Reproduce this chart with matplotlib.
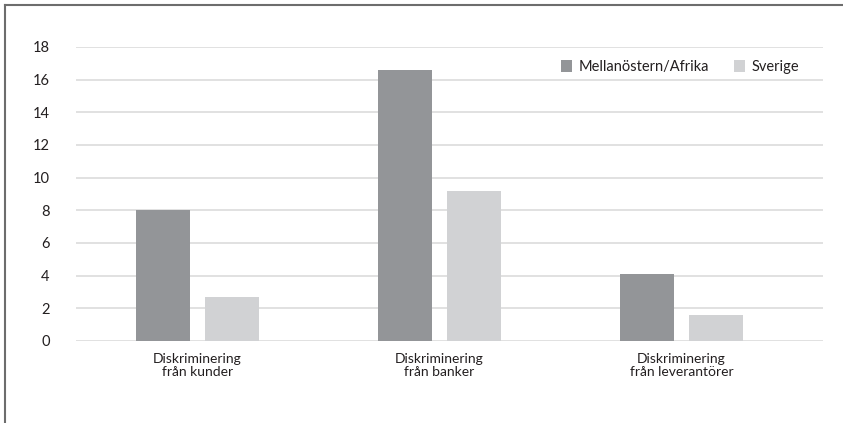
import numpy as np
import matplotlib.pyplot as plt
from matplotlib.lines import Line2D

plt.rcParams['font.family'] = ['Lato', 'DejaVu Sans']

categories = ["Diskriminering\nfrån kunder", "Diskriminering\nfrån banker", "Diskriminering\nfrån leverantörer"]
mellanostern = [8.0, 16.6, 4.1]
sverige = [2.7, 9.2, 1.6]
series_names = ["Mellanöstern/Afrika", "Sverige"]
yticks = [0, 2, 4, 6, 8, 10, 12, 14, 16, 18]

fig = plt.figure(figsize=(8.43, 4.23), dpi=100)
ax = fig.add_axes([0.0902, 0.1939, 0.8861, 0.6950])

x = np.arange(len(categories))
w = 0.223
off = 0.1426
ax.bar(x - off, mellanostern, w, color="#939598", label=series_names[0], zorder=3)
ax.bar(x + off, sverige, w, color="#d1d2d4", label=series_names[1], zorder=3)

ax.set_xlim(-0.502, 2.585)
ax.set_ylim(0, 18)
ax.set_yticks(yticks)
ax.set_xticks(x)
ax.set_xticklabels(categories, fontsize=10, color="#231f20", linespacing=1.1)
ax.tick_params(axis="y", length=0, pad=19, labelsize=10.5, labelcolor="#231f20")
ax.tick_params(axis="x", length=0, pad=9)
ax.grid(axis="y", color="#d9d9d9", linewidth=1.1, zorder=0)
for s in ax.spines.values():
    s.set_visible(False)

ax.legend(loc="upper right", bbox_to_anchor=(0.985, 1.0), ncol=2, frameon=False,
          fontsize=10.5, handlelength=0.8, handleheight=0.8, handletextpad=0.4,
          columnspacing=1.7, borderaxespad=0.5, labelcolor="#231f20")

# outer frame (top and left only)
fig.add_artist(Line2D([5 / 843, 1], [1 - 5 / 423, 1 - 5 / 423], color="#6d6d6d", linewidth=1.5))
fig.add_artist(Line2D([5 / 843, 5 / 843], [0, 1 - 5 / 423], color="#6d6d6d", linewidth=1.5))

fig.savefig("out.png", dpi=100)
